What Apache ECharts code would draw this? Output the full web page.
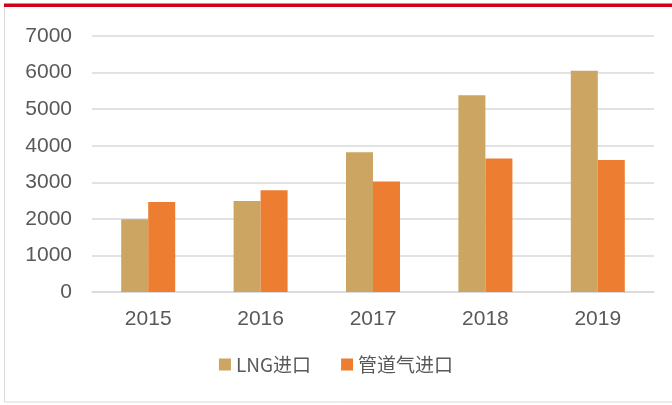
<!DOCTYPE html>
<html>
<head>
<meta charset="utf-8">
<script src="https://cdn.jsdelivr.net/npm/echarts@6/dist/echarts.min.js"></script>
<style>
html,body{margin:0;padding:0;background:#fff;}
#c{width:672px;height:405px;}
</style>
</head>
<body>
<div id="c"></div>
<script>
const categories = ['2015', '2016', '2017', '2018', '2019'];
const lngImport = [1990, 2490, 3820, 5380, 6050];
const pipeImport = [2460, 2780, 3020, 3650, 3610];
const seriesNames = ['LNG进口', '管道气进口'];
const yTicks = { min: 0, max: 7000, interval: 1000 };

const chart = echarts.init(document.getElementById('c'), null, { renderer: 'canvas' });
chart.setOption({
  animation: false,
  backgroundColor: '#fff',
  graphic: [
    { type: 'rect', shape: { x: 4.5, y: 5.5, width: 700, height: 396.5 }, style: { fill: 'none', stroke: '#d9d9d9', lineWidth: 1 }, silent: true },
    { type: 'rect', shape: { x: 4, y: 3.5, width: 668, height: 3.5 }, style: { fill: '#d0021b' }, silent: true }
  ],
  grid: { left: 92, right: 18, top: 36, bottom: 113 },
  legend: {
    bottom: 26,
    left: 'center',
    itemWidth: 12,
    itemHeight: 12,
    itemGap: 30,
    icon: 'rect',
    textStyle: { color: '#595959', fontSize: 19, fontFamily: 'Noto Sans CJK SC' },
    data: seriesNames
  },
  xAxis: {
    type: 'category',
    data: categories,
    axisLine: { show: true, lineStyle: { color: '#d9d9d9', width: 1.5 } },
    axisTick: { show: false },
    axisLabel: { color: '#595959', fontSize: 21, margin: 17, fontFamily: 'Liberation Sans' }
  },
  yAxis: {
    type: 'value',
    min: yTicks.min,
    max: yTicks.max,
    interval: yTicks.interval,
    axisLine: { show: false },
    axisTick: { show: false },
    axisLabel: { color: '#595959', fontSize: 21, margin: 20, fontFamily: 'Liberation Sans', formatter: v => String(v) },
    splitLine: { lineStyle: { color: '#d9d9d9', width: 1.5 } }
  },
  series: [
    { name: seriesNames[0], type: 'bar', data: lngImport, barWidth: 27, barGap: '0%', itemStyle: { color: '#CCA562' } },
    { name: seriesNames[1], type: 'bar', data: pipeImport, barWidth: 27, barGap: '0%', itemStyle: { color: '#ED7D31' } }
  ]
});
</script>
</body>
</html>
